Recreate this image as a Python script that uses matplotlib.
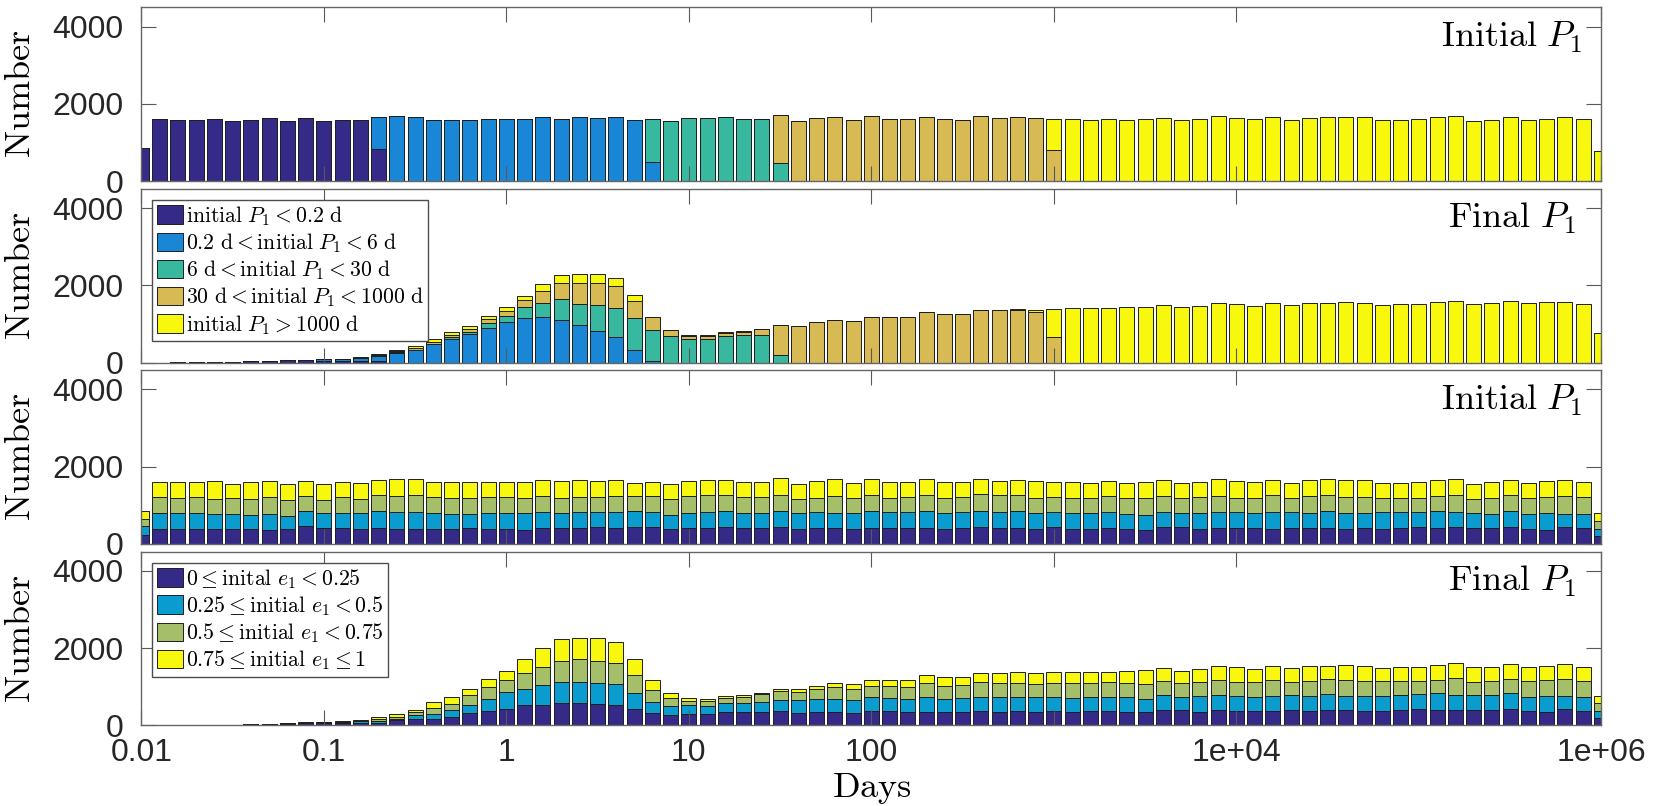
import numpy as np
import matplotlib
matplotlib.use('Agg')
import matplotlib.pyplot as plt

plt.rcParams['mathtext.fontset'] = 'cm'
plt.rcParams['font.family'] = ['Liberation Sans', 'DejaVu Sans']

# bin centres in log10(days): -2 ... 6, step 0.1
log_centers = np.round(np.arange(-2, 6.001, 0.1), 1)

# ---- panel 1 : initial P1, coloured by initial P1 class
p1_purple = [853, 1610, 1592, 1592, 1610, 1549, 1592, 1636, 1549, 1636,
             1549, 1592, 1575, 827] + [0] * 67
p1_blue = [0] * 13 + [826, 1680, 1670, 1592, 1592, 1592, 1610, 1610, 1610, 1670,
                      1618, 1662, 1636, 1653, 1592, 496] + [0] * 52
p1_teal = [0] * 28 + [1114, 1566, 1636, 1644, 1653, 1610, 1610, 470] + [0] * 45
p1_tan = [0] * 35 + [1244, 1566, 1627, 1670, 1583, 1697, 1601, 1601, 1670, 1610,
                     1592, 1679, 1644, 1662, 1627, 800] + [0] * 30
p1_yellow = [0] * 50 + [801, 1601, 1592, 1610, 1575, 1601, 1636, 1583, 1601, 1679,
                        1636, 1610, 1662, 1583, 1636, 1662, 1653, 1653, 1583, 1583,
                        1601, 1662, 1679, 1557, 1592, 1662, 1583, 1618, 1662, 1601, 791]

# ---- panel 2 : final P1, coloured by initial P1 class
p2_purple = [0, 0, 5, 10, 15, 20, 30, 45, 55, 75, 40, 40, 40, 30] + [0] * 67
p2_blue = [0] * 10 + [45, 60, 80, 150, 260, 325, 471, 613, 731, 904,
                      1057, 1153, 1170, 1109, 970, 822, 657, 330, 40] + [0] * 52
p2_teal = [0] * 13 + [5, 10, 0, 10, 50, 60, 112, 157, 278, 374, 548, 548, 670,
                      748, 822, 800, 675, 614, 605, 700, 709, 709, 200] + [0] * 45
p2_tan = [0] * 12 + [5, 10, 20, 43, 60, 60, 87, 104, 113, 200, 313, 409, 548,
                     557, 583, 444, 339, 165, 78, 87, 70, 87, 157, 770,
                     944, 1040, 1092, 1066, 1188, 1188, 1170, 1301, 1266, 1249,
                     1353, 1362, 1365, 1301, 657] + [0] * 30
p2_yellow = [0] * 12 + [10, 15, 25, 60, 69, 60, 78, 87, 113, 104, 174, 209, 218,
                        235, 200, 148, 0, 0, 26, 26, 17, 17] + [0] * 14 + [14, 61, 731,
             1405, 1414, 1414, 1431, 1449, 1492, 1431, 1457, 1553, 1527,
             1466, 1544, 1483, 1544, 1544, 1562, 1544, 1483, 1518, 1527,
             1579, 1605, 1509, 1544, 1605, 1536, 1562, 1580, 1530, 760]

# ---- panel 3 : initial P1, coloured by initial e1 class
p3_purple = [230, 383, 383, 374, 391, 374, 374, 357, 374, 461,
             400, 409, 383, 418, 383, 383, 383, 374, 400, 383,
             383, 357, 400, 418, 418, 435, 409, 426, 435, 383,
             400, 418, 435, 400, 418, 435, 383, 400, 400, 383,
             418, 418, 400, 418, 383, 400, 435, 400, 418, 383,
             444, 383, 383, 400, 383, 357, 435, 435, 383, 418,
             418, 400, 383, 400, 400, 400, 383, 400, 383, 418,
             435, 400, 435, 400, 400, 435, 383, 357, 435, 400, 200]
p3_blue = [220, 426, 409, 418, 374, 409, 374, 418, 348, 391,
           391, 400, 409, 435, 435, 452, 409, 391, 365, 409,
           409, 435, 418, 374, 400, 391, 409, 418, 400, 374,
           391, 400, 409, 391, 383, 409, 409, 418, 391, 426,
           435, 400, 418, 435, 409, 418, 426, 418, 435, 409,
           374, 409, 409, 418, 400, 391, 383, 374, 409, 400,
           400, 391, 435, 418, 409, 452, 409, 391, 435, 400,
           383, 452, 400, 391, 374, 418, 383, 435, 339, 374, 191]
p3_green = [190, 400, 391, 418, 400, 400, 418, 435, 400, 374,
            348, 391, 374, 409, 418, 426, 418, 418, 418, 418,
            418, 383, 418, 391, 391, 383, 418, 391, 400, 409,
            444, 444, 418, 418, 409, 418, 374, 374, 444, 374,
            409, 365, 400, 409, 391, 400, 418, 444, 409, 391,
            391, 391, 391, 418, 400, 435, 418, 374, 426, 418,
            365, 391, 444, 365, 426, 409, 426, 418, 365, 365,
            365, 383, 426, 374, 409, 409, 418, 418, 461, 435, 200]
p3_yellow = [220, 391, 418, 391, 452, 365, 435, 426, 426, 409,
             409, 400, 409, 400, 452, 426, 391, 409, 418, 391,
             391, 418, 426, 452, 452, 426, 426, 339, 365, 383,
             400, 400, 400, 391, 391, 444, 383, 444, 435, 391,
             426, 409, 383, 409, 418, 383, 391, 374, 400, 435,
             391, 418, 391, 383, 391, 418, 426, 391, 383, 452,
             452, 418, 400, 391, 426, 409, 444, 452, 391, 391,
             418, 426, 426, 383, 418, 400, 391, 409, 426, 391, 200]

# ---- panel 4 : final P1, coloured by initial e1 class
p4_purple = [0, 0, 0, 0, 5, 10, 26, 40, 45, 50,
             55, 60, 70, 60, 129, 172, 164, 207, 310, 371,
             431, 526, 517, 569, 569, 543, 517, 414, 310, 259,
             302, 284, 345, 336, 336, 362, 328, 345, 345, 319,
             371, 371, 345, 353, 336, 336, 371, 353, 379, 353,
             379, 353, 362, 371, 353, 336, 397, 388, 345, 388,
             371, 371, 371, 388, 371, 388, 388, 371, 362, 397,
             414, 397, 397, 388, 388, 414, 379, 353, 414, 379, 181]
p4_blue = [0, 0, 0, 0, 0, 0, 0, 3, 7, 15,
           15, 20, 30, 52, 43, 95, 138, 190, 216, 319,
           431, 405, 526, 543, 560, 543, 543, 414, 293, 233,
           216, 224, 233, 233, 259, 302, 319, 345, 328, 336,
           353, 328, 336, 388, 345, 379, 371, 371, 362, 371,
           362, 362, 379, 371, 371, 336, 379, 353, 414, 397,
           397, 353, 397, 388, 379, 414, 371, 388, 397, 388,
           388, 431, 397, 388, 388, 414, 362, 405, 345, 362, 198]
p4_green = [0, 0, 0, 0, 0, 0, 0, 0, 0, 8,
            10, 13, 20, 43, 52, 69, 155, 155, 259, 293,
            302, 414, 474, 552, 595, 586, 543, 465, 302, 207,
            103, 112, 129, 155, 207, 233, 224, 241, 310, 293,
            302, 310, 310, 345, 328, 328, 388, 379, 362, 336,
            345, 371, 345, 371, 362, 405, 379, 353, 353, 379,
            345, 388, 405, 336, 405, 388, 405, 397, 397, 353,
            353, 353, 422, 353, 371, 379, 405, 405, 431, 405, 190]
p4_yellow = [0, 0, 0, 0, 0, 0, 0, 0, 0, 5,
             6, 10, 18, 52, 60, 60, 138, 190, 164, 207,
             250, 362, 500, 578, 552, 603, 560, 431, 259, 129,
             86, 69, 52, 60, 43, 52, 60, 95, 103, 112,
             138, 164, 172, 207, 250, 198, 216, 250, 267, 302,
             284, 302, 302, 276, 328, 353, 336, 310, 336, 379,
             405, 336, 362, 362, 379, 345, 388, 388, 319, 371,
             362, 388, 388, 379, 371, 379, 371, 379, 405, 371, 198]

period_labels = [r'$\mathrm{initial}\ P_1 < 0.2\ \mathrm{d}$',
                 r'$0.2\ \mathrm{d} < \mathrm{initial}\ P_1 < 6\ \mathrm{d}$',
                 r'$6\ \mathrm{d} < \mathrm{initial}\ P_1 < 30\ \mathrm{d}$',
                 r'$30\ \mathrm{d} < \mathrm{initial}\ P_1 < 1000\ \mathrm{d}$',
                 r'$\mathrm{initial}\ P_1 > 1000\ \mathrm{d}$']
ecc_labels = [r'$0 \leq \mathrm{inital}\ e_1 < 0.25$',
              r'$0.25 \leq \mathrm{initial}\ e_1 < 0.5$',
              r'$0.5 \leq \mathrm{initial}\ e_1 < 0.75$',
              r'$0.75 \leq \mathrm{initial}\ e_1 \leq 1$']
period_colors = ['#352A87', '#1A86D6', '#38B89E', '#D8BA55', '#F8F80F']
ecc_colors = ['#352A87', '#0A9BCF', '#A5BE6A', '#F8F80F']

tick_pos = [1e-2, 1e-1, 1, 10, 100, 1000, 1e4, 1e6]
tick_lab = ['0.01', '0.1', '1', '10', '100', '', '1e+04', '1e+06']


def stacked(ax, series, colors, labels):
    half = 0.041
    left = 10 ** (log_centers - half)
    width = 10 ** (log_centers + half) - left
    bottom = np.zeros(len(log_centers))
    for vals, col, lab in zip(series, colors, labels):
        vals = np.array(vals, dtype=float)
        ax.bar(left, vals, width=width, bottom=bottom, align='edge',
               color=col, edgecolor='#1e1e1e', linewidth=0.7, label=lab)
        bottom = bottom + vals


fig = plt.figure(figsize=(16.61, 8.06), dpi=100)
bottoms = [0.7754, 0.5502, 0.3254, 0.1001]
axes = [fig.add_axes([0.0851, b, 0.879, 0.2154]) for b in bottoms]

stacked(axes[0], [p1_purple, p1_blue, p1_teal, p1_tan, p1_yellow], period_colors, period_labels)
stacked(axes[1], [p2_purple, p2_blue, p2_teal, p2_tan, p2_yellow], period_colors, period_labels)
stacked(axes[2], [p3_purple, p3_blue, p3_green, p3_yellow], ecc_colors, ecc_labels)
stacked(axes[3], [p4_purple, p4_blue, p4_green, p4_yellow], ecc_colors, ecc_labels)

titles = [r'$\mathrm{Initial}\ P_1$', r'$\mathrm{Final}\ P_1$',
          r'$\mathrm{Initial}\ P_1$', r'$\mathrm{Final}\ P_1$']
title_x = [0.9874, 0.9825, 0.9874, 0.9825]

for i, ax in enumerate(axes):
    ax.set_xscale('log')
    ax.set_xlim(1e-2, 1e6)
    ax.set_ylim(0, 4500)
    ax.set_yticks([0, 2000, 4000])
    ax.set_xticks(tick_pos)
    ax.xaxis.set_minor_locator(matplotlib.ticker.NullLocator())
    if i == 3:
        ax.set_xticklabels(tick_lab)
    else:
        ax.set_xticklabels([])
    ax.tick_params(axis='both', which='major', direction='in', length=11, width=0.8,
                   color='0.35', labelcolor='#262626', labelsize=23,
                   top=True, right=True)
    ax.tick_params(axis='x', pad=9)
    ax.tick_params(axis='y', pad=13)
    for s in ax.spines.values():
        s.set_color('0.4')
        s.set_linewidth(1.0)
    ax.set_ylabel(r'$\mathrm{Number}$', fontsize=26)
    ax.yaxis.set_label_coords(-0.071, 0.5)
    ax.text(title_x[i], 0.773, titles[i], transform=ax.transAxes,
            ha='right', va='baseline', fontsize=26)

leg_kw = dict(loc='upper left', fontsize=15.7, frameon=True, fancybox=False,
              framealpha=1, edgecolor='0.3', handlelength=1.2, handleheight=0.92,
              handletextpad=0.15, labelspacing=0.16, borderpad=0.2,
              borderaxespad=0.5)
leg = axes[1].legend(**leg_kw)
leg.get_frame().set_linewidth(1.0)
leg = axes[3].legend(**leg_kw)
leg.get_frame().set_linewidth(1.0)

fig.text(0.0851 + 0.879 / 2, 0.011, r'$\mathrm{Days}$', ha='center', va='baseline', fontsize=26)

fig.savefig('out.png', dpi=100)
